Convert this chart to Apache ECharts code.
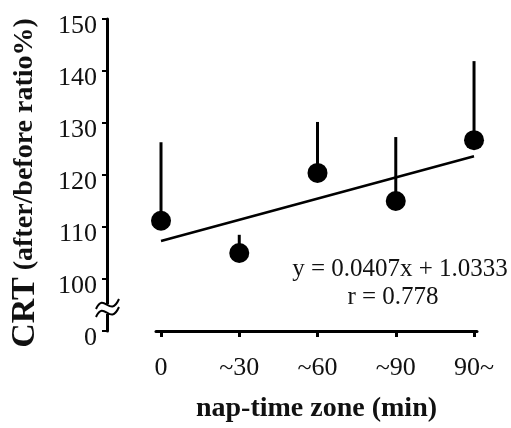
<!DOCTYPE html>
<html>
<head>
<meta charset="utf-8">
<script src="https://cdn.jsdelivr.net/npm/echarts@6/dist/echarts.min.js"></script>
<style>
  html, body { margin: 0; padding: 0; background: #fff; }
  #chart { width: 511px; height: 428px; }
</style>
</head>
<body>
<div id="chart"></div>
<script>
// nap-time zones on the x axis
const categories = ['0', '~30', '~60', '~90', '90~'];
// mean CRT ratio (%) for each zone
const crtMean = [111.2, 105.0, 120.4, 115.0, 126.7];
// top of the (one-sided) error bar
const crtUpper = [126.3, 108.5, 130.2, 127.3, 141.9];
// regression line, value at first and last zone
const fitStart = 107.3;
const fitEnd = 123.6;
// y axis: the lowest tick stands for 0 (axis is broken below 100)
const yMin = 90;
const yMax = 150;
const yStep = 10;
const yBreakLabel = '0';

const serif = "'Liberation Serif', 'Times New Roman', serif";

const chartDom = document.getElementById('chart');
const chart = echarts.init(chartDom, null, { renderer: 'canvas' });

const points = crtMean.map((v, i) => [i, v]);
const bars = crtUpper.map((v, i) => [i, crtMean[i], v]);
const fitData = [[0, fitStart], [categories.length - 1, fitEnd]];
const tickIdx = categories.map((c, i) => i);

const option = {
  animation: false,
  backgroundColor: '#fff',
  grid: { left: 156, right: 34, top: 19, bottom: 94 },
  xAxis: {
    type: 'value',
    min: -0.064,
    max: 4.038,
    splitLine: { show: false },
    axisLine: { onZero: false, lineStyle: { color: '#000', width: 3 } },
    axisTick: { customValues: tickIdx, length: 6, lineStyle: { color: '#000', width: 3 } },
    axisLabel: {
      customValues: tickIdx,
      formatter: v => categories[Math.round(v)],
      margin: 24,
      color: '#111',
      fontFamily: serif,
      fontSize: 26
    },
    name: 'nap-time zone (min)',
    nameLocation: 'middle',
    nameGap: 64,
    nameTextStyle: { color: '#111', fontFamily: serif, fontSize: 28, fontWeight: 'bold' }
  },
  yAxis: {
    type: 'value',
    min: yMin,
    max: yMax,
    interval: yStep,
    offset: 49,
    splitLine: { show: false },
    axisLine: { show: true, onZero: false, lineStyle: { color: '#000', width: 3 } },
    axisTick: { show: true, length: 5, lineStyle: { color: '#000', width: 2 } },
    axisLabel: {
      formatter: v => (v === yMin ? yBreakLabel : String(v)),
      margin: 10,
      color: '#111',
      fontFamily: serif,
      fontSize: 26,
      verticalAlign: 'top',
      lineHeight: 14
    }
  },
  series: [
    {
      type: 'custom',
      data: bars,
      z: 2,
      renderItem: (params, api) => {
        const a = api.coord([api.value(0), api.value(1)]);
        const b = api.coord([api.value(0), api.value(2)]);
        return {
          type: 'line',
          shape: { x1: a[0], y1: a[1], x2: b[0], y2: b[1] },
          style: { stroke: '#000', lineWidth: 3 }
        };
      }
    },
    {
      type: 'line',
      data: fitData,
      showSymbol: false,
      symbol: 'none',
      z: 3,
      lineStyle: { color: '#000', width: 2.5 }
    },
    {
      type: 'scatter',
      data: points,
      symbol: 'circle',
      symbolSize: 20,
      z: 4,
      itemStyle: { color: '#000', opacity: 1 }
    }
  ]
};

chart.setOption(option);

// axis break mark, equation text and y title
const ax = chart.convertToPixel({ gridIndex: 0 }, [0, 95]);
const axisX = 107;
const by = ax[1] + 2;
chart.setOption({
  graphic: [
    {
      type: 'rect',
      shape: { x: axisX - 4, y: by - 3, width: 8, height: 10 },
      style: { fill: '#fff' },
      z: 100
    },
    {
      type: 'bezierCurve',
      shape: { x1: axisX - 11, y1: by + 2, cpx1: axisX - 3, cpy1: by - 16, cpx2: axisX + 3, cpy2: by + 12, x2: axisX + 12, y2: by - 8 },
      style: { stroke: '#000', lineWidth: 2, fill: null },
      z: 101
    },
    {
      type: 'bezierCurve',
      shape: { x1: axisX - 11, y1: by + 10, cpx1: axisX - 3, cpy1: by - 8, cpx2: axisX + 3, cpy2: by + 20, x2: axisX + 12, y2: by },
      style: { stroke: '#000', lineWidth: 2, fill: null },
      z: 101
    },
    {
      type: 'text',
      x: 400,
      y: 269,
      style: {
        text: 'y = 0.0407x + 1.0333',
        fill: '#111',
        font: '25px ' + serif,
        align: 'center',
        verticalAlign: 'middle'
      },
      z: 100
    },
    {
      type: 'text',
      x: 393,
      y: 297,
      style: {
        text: 'r = 0.778',
        fill: '#111',
        font: '25px ' + serif,
        align: 'center',
        verticalAlign: 'middle'
      },
      z: 100
    },
    {
      type: 'text',
      x: 25,
      y: 183,
      rotation: Math.PI / 2,
      style: {
        text: '{a|CRT}{b| (after/before ratio%)}',
        rich: {
          a: { fontFamily: serif, fontSize: 34, fontWeight: 'bold', fill: '#111' },
          b: { fontFamily: serif, fontSize: 28, fontWeight: 'bold', fill: '#111' }
        },
        align: 'center',
        verticalAlign: 'middle'
      },
      z: 100
    }
  ]
});

window.addEventListener('resize', () => chart.resize());
</script>
</body>
</html>
